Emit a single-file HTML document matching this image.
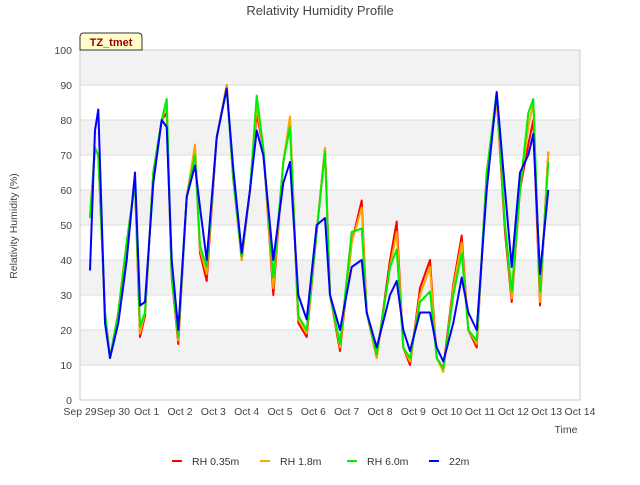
<!DOCTYPE html>
<html><head><meta charset="utf-8"><style>
body{margin:0;background:#fff;font-family:"Liberation Sans",sans-serif}
svg text{font-family:"Liberation Sans",sans-serif}
</style></head><body>
<svg id="chart" width="640" height="480" viewBox="0 0 640 480" xmlns="http://www.w3.org/2000/svg">
<text x="320" y="15" text-anchor="middle" font-size="13" fill="#444">Relativity Humidity Profile</text>
<g id="grid"></g>
<g id="series"></g>
<g id="axes"></g>
<text transform="translate(17,226) rotate(-90)" text-anchor="middle" font-size="10.5" fill="#444">Relativity Humidity (%)</text>
<text x="566" y="433" text-anchor="middle" font-size="10.5" fill="#444">Time</text>
<g>
<path d="M80,50 L80,37 Q80,33 84,33 L138,33 Q142,33 142,37 L142,50 Z" fill="#ffffcc" stroke="#333" stroke-width="1"/>
<text x="111" y="46" text-anchor="middle" font-size="11" font-weight="bold" fill="#a00000">TZ_tmet</text>
</g>
<g id="legend"></g>
</svg>
<script>
const tickLabels=["Sep 29","Sep 30","Oct 1","Oct 2","Oct 3","Oct 4","Oct 5","Oct 6","Oct 7","Oct 8","Oct 9","Oct 10","Oct 11","Oct 12","Oct 13","Oct 14"];
const yTicks=[0,10,20,30,40,50,60,70,80,90,100];
const times=[0.3,0.45,0.55,0.75,0.9,1.15,1.4,1.65,1.8,1.95,2.2,2.45,2.6,2.75,2.95,3.2,3.45,3.6,3.8,4.1,4.4,4.6,4.85,5.1,5.3,5.5,5.8,6.1,6.3,6.55,6.8,7.1,7.35,7.5,7.8,8.15,8.45,8.6,8.9,9.3,9.5,9.7,9.9,10.2,10.5,10.7,10.9,11.2,11.45,11.65,11.9,12.2,12.5,12.75,12.95,13.2,13.45,13.6,13.8,14.05];
const rh035=[52,72,70,25,12,25,45,62,18,24,65,80,82,35,16,58,72,42,34,75,90,63,40,60,82,72,30,68,80,22,18,48,72,30,14,45,57,25,12,40,51,15,10,32,40,12,9,33,47,20,15,65,86,48,28,60,73,80,27,71];
const rh18=[52,72,70,25,12,25,45,62,19,25,65,80,84,35,17,58,73,43,36,75,90,63,40,60,84,72,32,68,81,23,19,48,72,30,15,45,55,25,12,38,48,15,11,30,38,12,8,32,45,20,16,65,86,50,29,60,78,85,28,71];
const rh60=[52,72,70,25,12,25,45,62,21,25,65,80,86,35,18,58,70,44,38,75,89,63,41,60,87,72,35,68,78,24,20,48,71,30,16,48,49,25,13,38,43,15,12,28,31,12,9,30,42,20,17,65,88,50,31,60,82,86,31,68];
const rh22m=[37,77,83,22,12,22,40,65,27,28,62,80,78,40,20,58,67,55,40,75,89,66,42,60,77,70,40,62,68,30,23,50,52,30,20,38,40,25,15,30,34,20,14,25,25,15,11,22,35,25,20,60,88,60,38,65,70,76,36,60];
const seriesNames=["RH 0.35m","RH 1.8m","RH 6.0m","22m"];
const seriesColors=["#ff0000","#ffa500","#00ee00","#0000ff"];
const allSeries=[rh035,rh18,rh60,rh22m];

const X0=80,X1=580,Y0=400,Y1=50;
const xs=d=>X0+(d/(tickLabels.length-1))*(X1-X0);
const ys=v=>Y0-(v/100)*(Y0-Y1);
const NS="http://www.w3.org/2000/svg";
function mk(tag,attrs,parent){const e=document.createElementNS(NS,tag);for(const k in attrs)e.setAttribute(k,attrs[k]);parent.appendChild(e);return e;}
const grid=document.getElementById('grid'),axes=document.getElementById('axes'),ser=document.getElementById('series'),leg=document.getElementById('legend');
mk('rect',{x:X0,y:Y1,width:X1-X0,height:Y0-Y1,fill:'#fff'},grid);
for(let i=0;i<yTicks.length-1;i++){
  if(i%2===1){const b=mk('rect',{x:X0,y:ys(yTicks[i+1]),width:X1-X0,height:ys(yTicks[i])-ys(yTicks[i+1]),fill:'#f2f2f2'},grid);
  
  }
}
yTicks.forEach(v=>{
  const l=mk('line',{x1:X0,x2:X1,y1:ys(v),y2:ys(v),stroke:'#dddddd','stroke-width':1},grid);
  
  
  const t=mk('text',{x:X0-8,y:ys(v)+4,'text-anchor':'end','font-size':10.5,fill:'#444'},axes);
  t.textContent=v;
  
  
});
const fr=mk('rect',{x:X0,y:Y1,width:X1-X0,height:Y0-Y1,fill:'none',stroke:'#cccccc'},axes);


tickLabels.forEach((s,i)=>{
  const t=mk('text',{x:xs(i),y:Y0+15,'text-anchor':'middle','font-size':10.5,fill:'#444'},axes);
  t.textContent=s;
  
  
});
allSeries.forEach((vals,si)=>{
  const pts=times.map((t,i)=>xs(t).toFixed(1)+','+ys(vals[i]).toFixed(1)).join(' ');
  const p=mk('polyline',{points:pts,fill:'none',stroke:seriesColors[si],'stroke-width':2,'stroke-linejoin':'round'},ser);
  
  
});
const legX=[172,260,347,429];
seriesNames.forEach((n,i)=>{
  const g=mk('g',{},leg);
  
  
  mk('line',{x1:legX[i],x2:legX[i]+10,y1:461,y2:461,stroke:seriesColors[i],'stroke-width':2},g);
  const t=mk('text',{x:legX[i]+20,y:465,'font-size':10.5,fill:'#333'},g);
  t.textContent=n;
});
</script>
</body></html>
